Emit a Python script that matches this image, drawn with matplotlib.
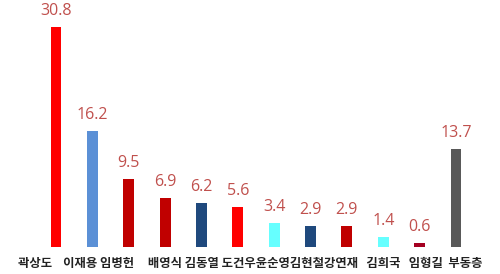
import matplotlib
matplotlib.use("Agg")
import matplotlib.pyplot as plt
import numpy as np

NAMES = ["곽상도", "이재용", "임병헌", "배영식", "김동열", "도건우",
         "윤순영", "김현철", "강연재", "김희국", "임형길", "부동층"]
VALUES = [30.8, 16.2, 9.5, 6.9, 6.2, 5.6, 3.4, 2.9, 2.9, 1.4, 0.6, 13.7]
COLORS = ["#FF0000", "#5B90D6", "#C00000", "#C00000", "#1F497D", "#FF0000",
          "#66FFFF", "#1F497D", "#C00000", "#66FFFF", "#A50021", "#595959"]
# the names sit in one typed line under the bars, spaced by hand
NAME_GAPS = [4, 1, 5, 1, 1, 0, 0, 0, 3, 3, 2]

fig = plt.figure(figsize=(5, 2.74), dpi=100)
ax = fig.add_axes([0, 27 / 274, 1, 247 / 274])

x = np.arange(len(NAMES))
bars = ax.bar(x, VALUES, width=0.30, color=COLORS)

for bar, value in zip(bars, VALUES):
    ax.annotate(
        f"{value:.1f}",
        (bar.get_x() + bar.get_width() / 2, bar.get_height()),
        xytext=(0, 8.6),
        textcoords="offset points",
        ha="center",
        va="baseline",
        fontsize=11.5,
        color="#C0504D",
        family="Open Sans",
    )

ax.set_xlim(-1.54, 12.21)
ax.set_ylim(0, 34.6)
ax.set_xticks([])
ax.set_yticks([])
for spine in ax.spines.values():
    spine.set_visible(False)

name_line = NAMES[0]
for gap, name in zip(NAME_GAPS, NAMES[1:]):
    name_line += " " * gap + name
fig.text(17.5 / 500, 11 / 274, name_line, ha="left", va="center",
         family="Noto Sans CJK KR", fontweight="bold", fontsize=8.9,
         color="#222222")

fig.savefig("out.png", dpi=100)
